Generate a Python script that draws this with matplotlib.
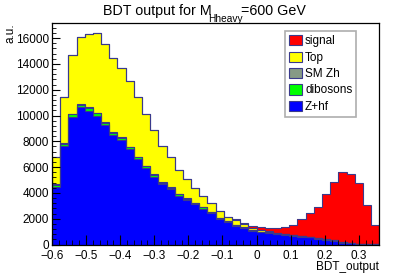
import matplotlib
matplotlib.use('Agg')
import matplotlib.pyplot as plt
from matplotlib.patches import Patch
from matplotlib.ticker import MultipleLocator
import numpy as np

plt.rcParams['font.family'] = ['Liberation Sans', 'DejaVu Sans']

# binning of BDT_output
x_lo, x_hi, n_bins = -0.6, 0.36, 40
edges = np.linspace(x_lo, x_hi, n_bins + 1)

# stacked components, bottom to top
zhf = [4480, 7640, 9890, 10640, 10380, 9970, 9250, 8500, 8110, 7390,
       6620, 5920, 5270, 4680, 4300, 3780, 3470, 3130, 2790, 2430,
       1980, 1750, 1460, 1260, 1070, 950, 920, 810, 760, 680,
       610, 560, 450, 370, 300, 140, 90, 40, 40, 20]
dibosons = [150, 190, 200, 200, 195, 190, 180, 170, 165, 155,
            150, 140, 130, 120, 110, 100, 95, 90, 80, 75,
            70, 60, 55, 50, 45, 40, 35, 30, 28, 25,
            22, 20, 18, 15, 12, 10, 8, 6, 5, 4]
smzh = [30, 50, 55, 55, 55, 50, 50, 45, 45, 40,
        40, 35, 35, 30, 30, 30, 25, 25, 25, 20,
        20, 20, 18, 16, 15, 15, 14, 14, 13, 12,
        12, 11, 10, 9, 8, 7, 6, 5, 4, 3]
top = [2150, 3540, 4550, 5230, 5680, 6180, 6070, 5780, 5400, 5120,
       4610, 4000, 3450, 2830, 2330, 1850, 1510, 1170, 900, 660,
       510, 290, 380, 240, 180, 130, 80, 60, 40, 25,
       15, 10, 8, 5, 5, 3, 3, 2, 1, 1]
signal = [0, 0, 0, 0, 0, 0, 0, 0, 0, 0,
          0, 0, 0, 0, 0, 0, 0, 0, 0, 10,
          20, 40, 50, 80, 150, 200, 250, 370, 540, 770,
          1340, 1820, 2450, 3520, 4530, 5460, 5340, 4740, 3010, 1460]

names = ['Z+hf', 'dibosons', 'SM Zh', 'Top', 'signal']
series = [zhf, dibosons, smzh, top, signal]
colors = ['#0000ff', '#00ff00', '#869a86', '#ffff00', '#ff0000']
line_col = '#3a3a8c'

fig = plt.figure(figsize=(4.09, 2.78), dpi=100)
ax = fig.add_axes([52 / 409, 1 - 244.5 / 278, 327.3 / 409, 221.2 / 278])

base = np.zeros(n_bins)
for vals, col in zip(series, colors):
    cum = base + np.array(vals, dtype=float)
    ax.stairs(cum, edges, baseline=base, fill=True, color=col, lw=0)
    base = cum

# outlines of each cumulative histogram
base = np.zeros(n_bins)
for vals in series:
    base = base + np.array(vals, dtype=float)
    ax.stairs(base, edges, color=line_col, lw=0.8)

ax.set_xlim(x_lo, x_hi)
ax.set_ylim(0, 17150)

xticks = [-0.6, -0.5, -0.4, -0.3, -0.2, -0.1, 0, 0.1, 0.2, 0.3]
xlabels = ['\u22120.6', '\u22120.5', '\u22120.4', '\u22120.3', '\u22120.2',
           '\u22120.1', '0', '0.1', '0.2', '0.3']
ax.set_xticks(xticks)
ax.set_xticklabels(xlabels)
ax.xaxis.set_minor_locator(MultipleLocator(0.02))
yticks = [0, 2000, 4000, 6000, 8000, 10000, 12000, 14000, 16000]
ax.set_yticks(yticks)
ax.set_yticklabels([str(v) for v in yticks])
ax.yaxis.set_minor_locator(MultipleLocator(400))

ax.tick_params(axis='both', which='both', direction='in', top=False, right=False,
               labelsize=8.5, colors='black')
ax.tick_params(axis='x', which='major', length=7, pad=4)
ax.tick_params(axis='x', which='minor', length=3.5)
ax.tick_params(axis='y', which='major', length=6, pad=2)
ax.tick_params(axis='y', which='minor', length=3)
for s in ax.spines.values():
    s.set_linewidth(0.9)

# title in three pieces, ROOT-like low subscript
fig.text(103 / 409, 1 - 15 / 278, 'BDT output for M', ha='left', va='baseline', fontsize=10.3)
fig.text(208 / 409, 1 - 21.5 / 278, 'Hheavy', ha='left', va='baseline', fontsize=7.3)
fig.text(241 / 409, 1 - 15 / 278, '=600 GeV', ha='left', va='baseline', fontsize=10.3)

fig.text(379 / 409, 1 - 267 / 278, 'BDT_output', ha='right', va='center', fontsize=8.5)
fig.text(10 / 409, 1 - 23 / 278, 'a.u.', ha='center', va='top', rotation=90, fontsize=8.5)

handles = [Patch(facecolor=c, edgecolor=line_col, lw=0.8, label=n)
           for n, c in zip(names[::-1], colors[::-1])]
leg = fig.legend(handles=handles, loc='upper left',
                 bbox_to_anchor=(285 / 409, 1 - 31 / 278),
                 fontsize=8.5, frameon=True, fancybox=False,
                 handlelength=1.1, handleheight=0.95, handletextpad=0.25,
                 labelspacing=0.36, borderpad=0.35, borderaxespad=0)
leg.get_frame().set_edgecolor('#9a9a9a')
leg.get_frame().set_linewidth(1.2)

fig.savefig('out.png', dpi=100)
